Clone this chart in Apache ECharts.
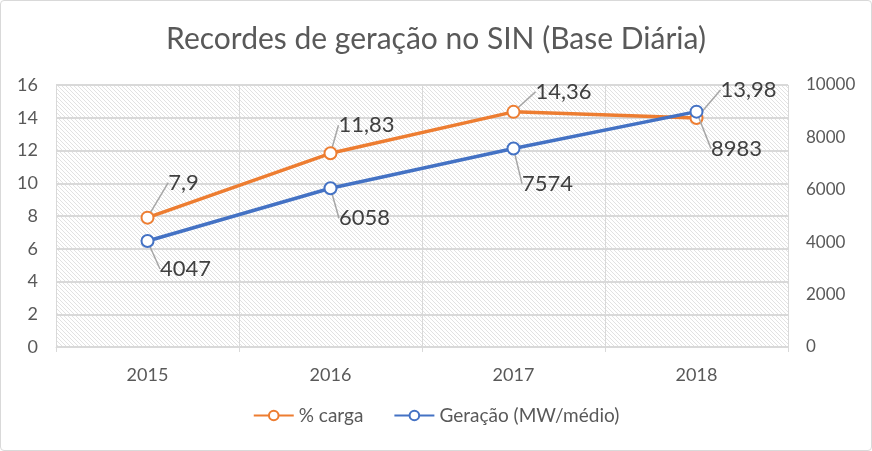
<!DOCTYPE html>
<html><head><meta charset="utf-8">
<script src="https://cdn.jsdelivr.net/npm/echarts@6/dist/echarts.min.js"></script>
<style>
html,body{margin:0;padding:0;background:#fff;}
#c{position:absolute;left:0;top:0;width:870px;height:449px;border:1px solid #d9d9d9;border-radius:4px;}
</style></head>
<body><div id="c"></div>
<script>
const titleText = 'Recordes de geração no SIN (Base Diária)';
const categories = ['2015', '2016', '2017', '2018'];
const cargaName = '% carga';
const cargaValues = [7.9, 11.83, 14.36, 13.98];
const geracaoName = 'Geração (MW/médio)';
const geracaoValues = [4047, 6058, 7574, 8983];
const leftTicks = [0, 2, 4, 6, 8, 10, 12, 14, 16];
const rightTicks = [0, 2000, 4000, 6000, 8000, 10000];

const cargaOffsets = [[36, -35], [36, -28], [50, -20], [52, -28]];
const geracaoOffsets = [[38, 28], [34, 30], [34, 35], [40, 37]];

function hatch() {
  const n = 4;
  const cv = document.createElement('canvas');
  cv.width = n; cv.height = n;
  const ctx = cv.getContext('2d');
  ctx.fillStyle = '#ffffff';
  ctx.fillRect(0, 0, n, n);
  ctx.strokeStyle = '#e2e2e2';
  ctx.lineWidth = 1;
  for (const k of [-n, 0, n]) {
    ctx.beginPath();
    ctx.moveTo(k, 0);
    ctx.lineTo(k + n, n);
    ctx.stroke();
  }
  return cv;
}

const font = 'Lato, "Open Sans", sans-serif';
const chart = echarts.init(document.getElementById('c'), null, {renderer: 'canvas'});
const fmtComma = v => String(v).replace('.', ',');

chart.setOption({
  animation: false,
  textStyle: {fontFamily: font},
  title: {
    text: titleText, left: 'center', top: 18,
    textStyle: {fontFamily: font, fontSize: 30, fontWeight: 'normal', color: '#595959'}
  },
  legend: {
    bottom: 20, left: 'center', itemGap: 30, itemWidth: 40, itemHeight: 12,
    textStyle: {fontFamily: font, fontSize: 19, color: '#595959'},
    data: [cargaName, geracaoName]
  },
  grid: {
    left: 55, right: 83, top: 84, bottom: 103,
    show: true, borderWidth: 0,
    backgroundColor: {image: hatch(), repeat: 'repeat'}
  },
  xAxis: {
    type: 'category', data: categories, boundaryGap: true,
    axisLine: {show: true, lineStyle: {color: '#d9d9d9', width: 1}},
    axisTick: {show: true, length: 5, lineStyle: {color: '#d9d9d9'}},
    splitLine: {show: true, lineStyle: {color: '#d9d9d9', width: 1}},
    axisLabel: {fontFamily: font, fontSize: 18, color: '#595959', margin: 19}
  },
  yAxis: [
    {
      type: 'value', min: 0, max: 16, interval: 2,
      axisLine: {show: false}, axisTick: {show: false},
      splitLine: {show: true, lineStyle: {color: '#d9d9d9', width: 2}},
      axisLabel: {fontFamily: font, fontSize: 18, color: '#595959', margin: 18,
        formatter: v => leftTicks.includes(v) ? String(v) : ''}
    },
    {
      type: 'value', min: 0, max: 10000, interval: 2000,
      axisLine: {show: false}, axisTick: {show: false}, splitLine: {show: false},
      axisLabel: {fontFamily: font, fontSize: 17, color: '#595959', margin: 18, align: 'left',
        formatter: v => rightTicks.includes(v) ? String(v) : ''}
    }
  ],
  series: [
    {
      name: cargaName, type: 'line', yAxisIndex: 0, data: cargaValues,
      symbol: 'emptyCircle', symbolSize: 12,
      itemStyle: {color: '#ED7D31', borderWidth: 3},
      lineStyle: {color: '#ED7D31', width: 3.5},
      label: {show: true, position: 'inside', fontFamily: font, fontSize: 22, color: '#404040',
        formatter: p => fmtComma(p.value)},
      labelLine: {show: true, lineStyle: {color: '#a6a6a6', width: 1.5}},
      labelLayout: p => ({dx: cargaOffsets[p.dataIndex][0], dy: cargaOffsets[p.dataIndex][1]}),
      z: 2
    },
    {
      name: geracaoName, type: 'line', yAxisIndex: 1, data: geracaoValues,
      symbol: 'emptyCircle', symbolSize: 12,
      itemStyle: {color: '#4472C4', borderWidth: 3},
      lineStyle: {color: '#4472C4', width: 3.5},
      label: {show: true, position: 'inside', fontFamily: font, fontSize: 22, color: '#404040',
        formatter: p => String(p.value)},
      labelLine: {show: true, lineStyle: {color: '#a6a6a6', width: 1.5}},
      labelLayout: p => ({dx: geracaoOffsets[p.dataIndex][0], dy: geracaoOffsets[p.dataIndex][1]}),
      z: 3
    }
  ]
});
</script>
</body></html>
